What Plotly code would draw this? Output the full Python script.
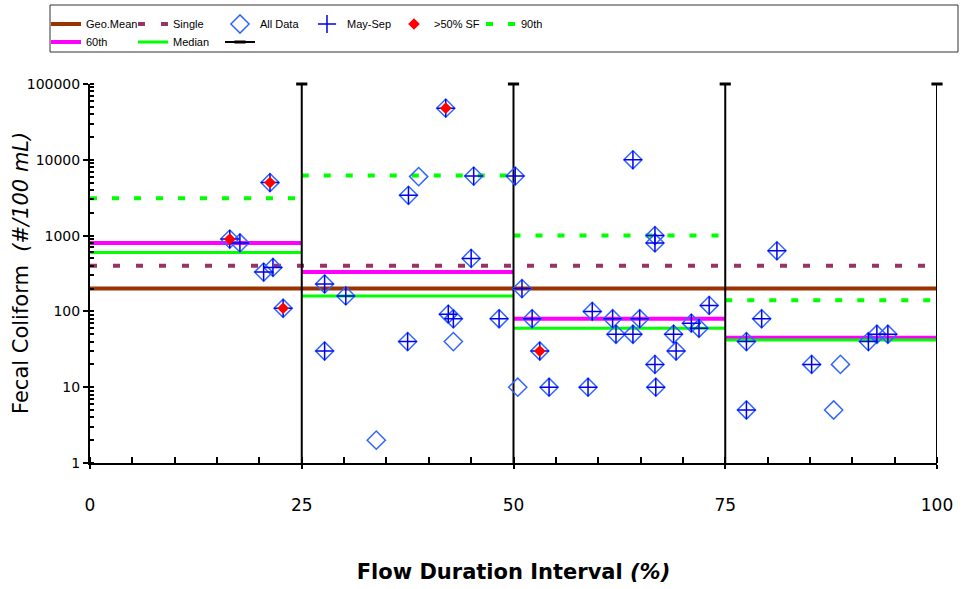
import plotly.graph_objects as go

# ---------------- data ----------------
seg_edges = [0, 25, 50, 75, 100]
geo_mean = 200
single_sample = 400
p90 = [3100, 6200, 1000, 140]
p60 = [800, 330, 80, 45]
median = [600, 160, 60, 42]

all_x = [16.5, 17.7, 20.5, 21.6, 21.25, 22.8,
         27.7, 27.7, 30.2, 33.8, 37.5, 37.6, 38.8, 42.0, 42.3, 42.9, 42.9, 45.0, 45.3, 48.3,
         50.2, 50.5, 51.0, 52.2, 53.1, 54.2, 58.8, 59.3, 61.7, 62.1, 64.1, 64.1, 64.9,
         66.7, 66.7, 66.7, 66.8, 68.9, 69.2, 71.0, 71.9, 73.1,
         77.5, 77.5, 79.3, 81.1, 85.2, 87.8, 88.6, 91.9, 92.9, 94.2]
all_y = [900, 800, 330, 380, 5000, 110,
         230, 30, 160, 2, 40, 3400, 6000, 48000, 92, 80, 40, 500, 6100, 80,
         6100, 10, 200, 80, 30, 10, 10, 100, 80, 50, 50, 10000, 80,
         1000, 800, 20, 10, 50, 30, 70, 60, 120,
         40, 5, 80, 630, 20, 5, 20, 40, 50, 50]

maysep_x = [16.5, 17.7, 20.5, 21.6, 21.25, 22.8,
            27.7, 27.7, 30.2, 37.5, 37.6, 42.0, 42.3, 42.9, 45.0, 45.3, 48.3,
            50.2, 51.0, 52.2, 53.1, 54.2, 58.8, 59.3, 61.7, 62.1, 64.1, 64.1, 64.9,
            66.7, 66.7, 66.7, 66.8, 68.9, 69.2, 71.0, 71.9, 73.1,
            77.5, 77.5, 79.3, 81.1, 85.2, 91.9, 92.9, 94.2]
maysep_y = [900, 800, 330, 380, 5000, 110,
            230, 30, 160, 40, 3400, 48000, 92, 80, 500, 6100, 80,
            6100, 200, 80, 30, 10, 10, 100, 80, 50, 50, 10000, 80,
            1000, 800, 20, 10, 50, 30, 70, 60, 120,
            40, 5, 80, 630, 20, 40, 50, 50]

sf_x = [16.5, 21.25, 22.8, 42.0, 53.1]
sf_y = [900, 5000, 110, 48000, 30]

divider_x = [25, 50, 75, 100]
y_min, y_max = 1, 100000
y_tick_vals = [1, 10, 100, 1000, 10000, 100000]
y_tick_text = ["1", "10", "100", "1000", "10000", "100000"]

# ---------------- helpers ----------------
def seg_lines(vals):
    xs, ys = [], []
    for i, v in enumerate(vals):
        xs += [seg_edges[i], seg_edges[i + 1], None]
        ys += [v, v, None]
    return xs, ys

fig = go.Figure()

fig.add_trace(go.Scatter(x=[seg_edges[0], seg_edges[-1]], y=[geo_mean, geo_mean], mode="lines",
                         line=dict(color="#993300", width=4), name="Geo.Mean",
                         legend="legend", legendrank=1))
fig.add_trace(go.Scatter(x=[seg_edges[0], seg_edges[-1]], y=[single_sample, single_sample], mode="lines",
                         line=dict(color="#993366", width=4, dash="7px,16px"), name="Single",
                         legend="legend", legendrank=2))

x60, y60 = seg_lines(p60)
fig.add_trace(go.Scatter(x=x60, y=y60, mode="lines", line=dict(color="#FF00FF", width=4),
                         name="60th", legend="legend2", legendrank=1))
xm, ym = seg_lines(median)
fig.add_trace(go.Scatter(x=xm, y=ym, mode="lines", line=dict(color="#00FF00", width=3),
                         name="Median", legend="legend2", legendrank=2))
x90, y90 = seg_lines(p90)
fig.add_trace(go.Scatter(x=x90, y=y90, mode="lines",
                         line=dict(color="#00FF00", width=4, dash="7px,15px"),
                         name="90th", legend="legend", legendrank=6))

dx, dy = [], []
for x in divider_x:
    dx += [x, x, None]
    dy += [y_min, y_max, None]
fig.add_trace(go.Scatter(x=dx, y=dy, mode="lines", line=dict(color="black", width=2),
                         showlegend=False, hoverinfo="skip"))
fig.add_trace(go.Scatter(x=divider_x, y=[y_max] * len(divider_x), mode="markers",
                         marker=dict(symbol="line-ew", size=8, line=dict(color="black", width=3)),
                         cliponaxis=False, showlegend=False, hoverinfo="skip"))
fig.add_trace(go.Scatter(x=[None], y=[None], mode="lines+markers", name=" ",
                         line=dict(color="black", width=2),
                         marker=dict(symbol="line-ew", size=8, line=dict(color="black", width=3)),
                         legend="legend2", legendrank=3))

fig.add_trace(go.Scatter(x=all_x, y=all_y, mode="markers", name="All Data",
                         marker=dict(symbol="diamond-open", size=14, color="#3366FF",
                                     line=dict(width=1.5, color="#3366FF")),
                         cliponaxis=False, legend="legend", legendrank=3))
fig.add_trace(go.Scatter(x=maysep_x, y=maysep_y, mode="markers", name="May-Sep",
                         marker=dict(symbol="cross-thin", size=13, color="#0000EE",
                                     line=dict(width=1.5, color="#0000EE")),
                         cliponaxis=False, legend="legend", legendrank=4))
fig.add_trace(go.Scatter(x=sf_x, y=sf_y, mode="markers", name=">50% SF",
                         marker=dict(symbol="diamond", size=9, color="#FF0000",
                                     line=dict(width=0)),
                         cliponaxis=False, legend="legend", legendrank=5))

# ---------------- layout ----------------
L, R, T, B = 90, 32, 84, 126
W, H = 969, 589
pw, ph = W - L - R, H - T - B

def px_x(p):
    return (p - L) / pw

def px_y(p):
    return (H - B - p) / ph

legend_font = dict(family="Liberation Sans, Arial", size=11, color="black")

fig.update_layout(
    width=W, height=H,
    margin=dict(l=L, r=R, t=T, b=B, autoexpand=False),
    plot_bgcolor="white", paper_bgcolor="white",
    font=dict(family="DejaVu Sans", color="black"),
    legend=dict(orientation="h", x=px_x(46), xanchor="left", y=px_y(24), yanchor="middle",
                font=legend_font, entrywidth=42, entrywidthmode="pixels",
                bgcolor="rgba(0,0,0,0)", traceorder="normal"),
    legend2=dict(orientation="h", x=px_x(46), xanchor="left", y=px_y(42), yanchor="middle",
                 font=legend_font, entrywidth=42, entrywidthmode="pixels",
                 bgcolor="rgba(0,0,0,0)", traceorder="normal"),
    xaxis=dict(range=[0, 100], dtick=25, tick0=0, showgrid=False, zeroline=False,
               showline=True, linecolor="black", linewidth=2,
               ticks="outside", ticklen=4, tickwidth=2, tickcolor="black",
               ticklabelstandoff=22,
               tickfont=dict(family="DejaVu Sans", size=17),
               minor=dict(dtick=5, ticks="inside", ticklen=6, tickwidth=2, tickcolor="black", showgrid=False),
               title=dict(text="Flow Duration Interval <i>(%)</i>",
                          font=dict(family="DejaVu Sans", size=21, weight="bold"), standoff=50)),
    yaxis=dict(type="log", range=[0, 5], tickmode="array", tickvals=y_tick_vals, ticktext=y_tick_text,
               showgrid=False, zeroline=False,
               showline=True, linecolor="black", linewidth=2,
               ticks="outside", ticklen=5, tickwidth=2, tickcolor="black",
               tickfont=dict(family="DejaVu Sans", size=14),
               minor=dict(dtick="D1", ticks="inside", ticklen=4, tickwidth=1.5, tickcolor="black", showgrid=False)),
    annotations=[dict(text="Fecal Coliform  <i>(#/100 mL)</i>", textangle=-90,
                      xref="paper", yref="paper", x=px_x(21), y=px_y(273),
                      xanchor="center", yanchor="middle", showarrow=False,
                      font=dict(family="DejaVu Sans", size=21, color="black"))],
    shapes=[dict(type="rect", xref="paper", yref="paper",
                 x0=px_x(50), x1=px_x(958), y0=px_y(52), y1=px_y(5),
                 line=dict(color="#333333", width=1), fillcolor="rgba(0,0,0,0)", layer="below")],
)

fig.write_html("out.html", config={"displayModeBar": False},
               post_script="document.body.style.margin='0';document.body.style.padding='0';")
